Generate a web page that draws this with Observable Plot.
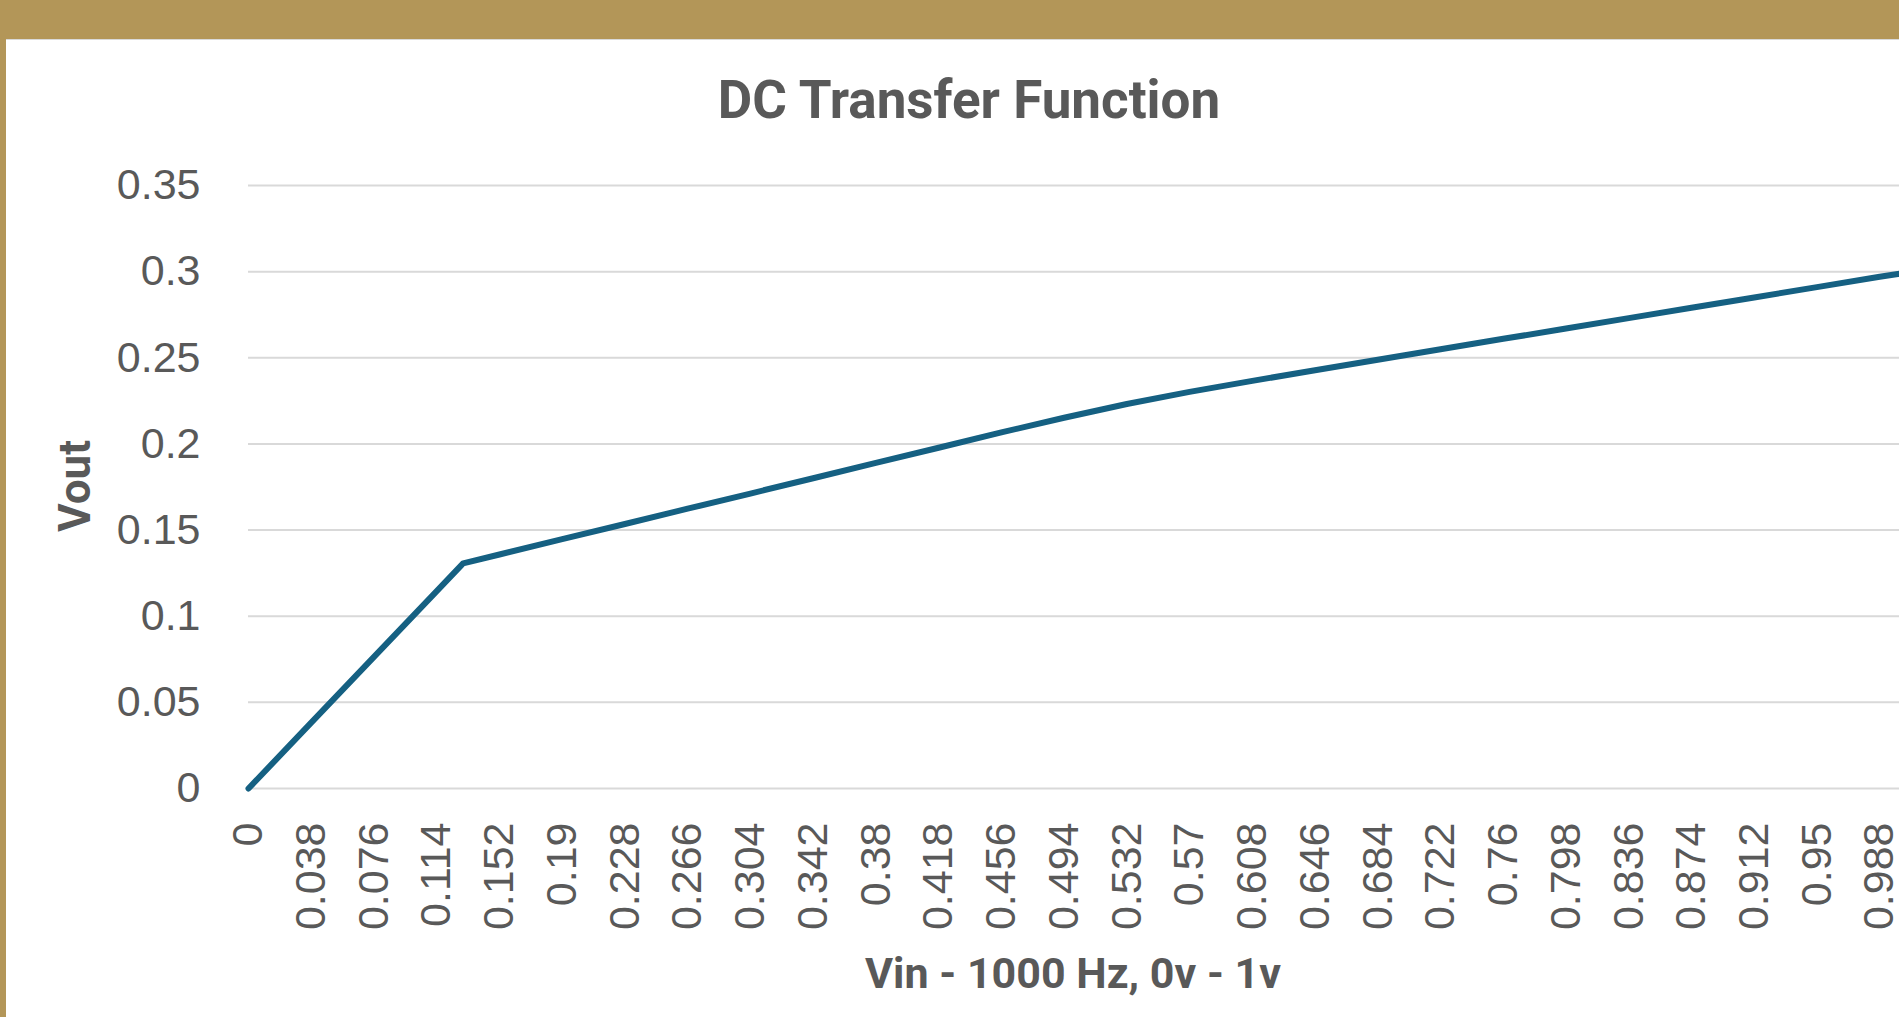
<!DOCTYPE html>
<html>
<head>
<meta charset="utf-8">
<script src="https://cdn.jsdelivr.net/npm/d3@7"></script>
<script src="https://cdn.jsdelivr.net/npm/@observablehq/plot@0.6"></script>
<style>
  html, body { margin: 0; padding: 0; width: 1899px; height: 1017px; overflow: hidden; background: #B39658; }
  #panel { position: absolute; left: 6px; top: 39px; width: 1893px; height: 978px; background: #ffffff; border-top: 1px solid #d9d9d9; box-sizing: border-box; }
  #chart { position: absolute; left: 0; top: 0; }
  .ttl { position: absolute; font-family: Roboto, "Liberation Sans", sans-serif; font-weight: 700; color: #595959; white-space: nowrap; line-height: 1; }
  #title { font-size: 53px; left: 963px; top: 34px; transform: translateX(-50%); }
  #xlabel { font-size: 43px; left: 1067px; top: 912px; transform: translateX(-50%); }
  #ylabel { font-size: 44px; left: 69px; top: 446px; transform: translate(-50%, -50%) rotate(-90deg); }
</style>
</head>
<body>
<div id="panel">
  <div id="chart"></div>
  <div id="title" class="ttl">DC Transfer Function</div>
  <div id="xlabel" class="ttl">Vin - 1000 Hz, 0v - 1v</div>
  <div id="ylabel" class="ttl">Vout</div>
</div>
<script>
// Values
const vin  = [0, 0.038, 0.076, 0.114, 0.130, 0.152, 0.190, 0.228, 0.266, 0.304, 0.342, 0.380, 0.418, 0.456, 0.494, 0.532, 0.570, 0.608, 0.646, 0.684, 0.722, 0.760, 0.798, 0.836, 0.874, 0.912, 0.950, 0.988, 1.000];
const vout = [0, 0.0382, 0.0764, 0.1146, 0.1307, 0.1358, 0.1447, 0.1535, 0.1624, 0.1712, 0.1801, 0.1890, 0.1978, 0.2067, 0.2152, 0.2232, 0.2302, 0.2366, 0.2428, 0.2489, 0.2550, 0.2610, 0.2670, 0.2730, 0.2790, 0.2850, 0.2910, 0.2970, 0.2988];
const xTicks = [0, 0.038, 0.076, 0.114, 0.152, 0.19, 0.228, 0.266, 0.304, 0.342, 0.38, 0.418, 0.456, 0.494, 0.532, 0.57, 0.608, 0.646, 0.684, 0.722, 0.76, 0.798, 0.836, 0.874, 0.912, 0.95, 0.988];
const yTicks = [0, 0.05, 0.1, 0.15, 0.2, 0.25, 0.3, 0.35];

const data = vin.map((v, i) => ({vin: v, vout: vout[i]}));

const chart = Plot.plot({
  width: 1893,
  height: 978,
  marginLeft: 242,
  marginRight: 0,
  marginTop: 145,
  marginBottom: 230,
  style: { fontFamily: '"Liberation Sans", Arial, sans-serif', fontSize: "43px", color: "#595959", background: "transparent", overflow: "visible" },
  x: { domain: [0, 1] },
  y: { domain: [0, 0.35] },
  marks: [
    Plot.ruleY(yTicks, { stroke: "#d9d9d9", strokeWidth: 2 }),
    Plot.axisY({ ticks: yTicks, tickSize: 0, tickPadding: 48, tickFormat: d => String(d), label: null, fontSize: 43 }),
    Plot.axisX({ ticks: xTicks, tickSize: 0, tickPadding: 34, tickRotate: -90, tickFormat: d => String(d), label: null, fontSize: 43 }),
    Plot.line(data, { x: "vin", y: "vout", stroke: "#156082", strokeWidth: 6, strokeLinejoin: "round", strokeLinecap: "round" })
  ]
});
document.getElementById("chart").appendChild(chart);
</script>
</body>
</html>
